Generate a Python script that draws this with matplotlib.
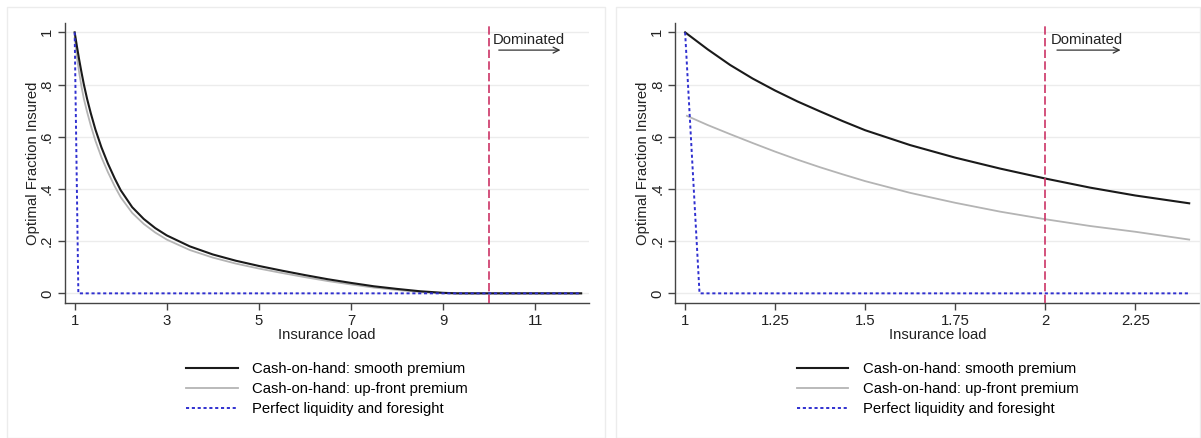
import matplotlib
matplotlib.use("Agg")
import matplotlib.pyplot as plt
from matplotlib.patches import Rectangle

plt.rcParams['font.family'] = ['Liberation Sans', 'DejaVu Sans']
plt.rcParams['font.size'] = 10.7

# left panel: insurance load 1..12
left_x = [1.0, 1.05, 1.1, 1.15, 1.2, 1.27, 1.35, 1.45, 1.58, 1.72, 1.87, 2.0, 2.25, 2.5, 2.75,
          3.0, 3.5, 4.0, 4.5, 5.0, 5.5, 6.0, 6.5, 7.0, 7.5, 8.0, 8.5, 9.0, 9.3, 12.0]
left_smooth_y = [1.0, 0.945, 0.893, 0.845, 0.8, 0.745, 0.69, 0.628, 0.56, 0.498, 0.44, 0.395, 0.33, 0.285, 0.25,
                 0.222, 0.18, 0.149, 0.125, 0.105, 0.087, 0.07, 0.054, 0.04, 0.027, 0.017, 0.008, 0.002, 0.0, 0.0]
left_upfront_y = [0.98, 0.905, 0.843, 0.79, 0.745, 0.695, 0.643, 0.585, 0.522, 0.465, 0.41, 0.368, 0.308, 0.266, 0.233,
                  0.206, 0.166, 0.137, 0.114, 0.095, 0.078, 0.062, 0.047, 0.034, 0.022, 0.013, 0.005, 0.0, 0.0, 0.0]
left_perfect_x = [1.0, 1.08, 12.0]
left_perfect_y = [1.0, 0.0, 0.0]

# right panel: insurance load 1..2.4
right_smooth_x = [1.0, 1.0625, 1.125, 1.1875, 1.25, 1.3125, 1.375, 1.4375, 1.5, 1.625, 1.75, 1.875,
                  2.0, 2.125, 2.25, 2.4]
right_smooth_y = [1.0, 0.935, 0.875, 0.823, 0.777, 0.735, 0.697, 0.66, 0.625, 0.568, 0.52, 0.478,
                  0.44, 0.405, 0.375, 0.345]
right_upfront_x = [1.005, 1.0625, 1.125, 1.1875, 1.25, 1.3125, 1.375, 1.4375, 1.5, 1.625, 1.75, 1.875,
                   2.0, 2.125, 2.25, 2.4]
right_upfront_y = [0.68, 0.645, 0.61, 0.576, 0.543, 0.512, 0.483, 0.456, 0.43, 0.385, 0.347, 0.313,
                   0.284, 0.258, 0.236, 0.206]
right_perfect_x = [1.0, 1.04, 2.4]
right_perfect_y = [1.0, 0.0, 0.0]

left_xticks = [1, 3, 5, 7, 9, 11]
left_xlabels = ['1', '3', '5', '7', '9', '11']
right_xticks = [1, 1.25, 1.5, 1.75, 2, 2.25]
right_xlabels = ['1', '1.25', '1.5', '1.75', '2', '2.25']
yticks = [0, 0.2, 0.4, 0.6, 0.8, 1]
ylabels = ['0', '.2', '.4', '.6', '.8', '1']

labels = ['Cash-on-hand: smooth premium',
          'Cash-on-hand: up-front premium',
          'Perfect liquidity and foresight']

W, H = 1201, 438
fig = plt.figure(figsize=(W / 100, H / 100), dpi=100)

# faint panel boxes like Stata graph regions
for x0, x1 in [(7, 605), (616, 1200)]:
    fig.patches.append(Rectangle((x0 / W, 0), (x1 - x0) / W, (H - 7) / H,
                                 transform=fig.transFigure, fill=False,
                                 edgecolor='#ececec', lw=1))


def panel(rect, sx, sy, ux, uy, px, py, xlim, xticks, xlabels, vline, dom_x, arrow_x):
    ax = fig.add_axes(rect)
    ax.set_xlim(xlim)
    ax.set_ylim(-0.037, 1.037)
    for y in yticks:
        ax.axhline(y, color='#ececec', lw=1, zorder=0)
    ax.plot(sx, sy, color='#1a1a1a', lw=1.5, label=labels[0], zorder=3)
    ax.plot(ux, uy, color='#b4b4b4', lw=1.3, label=labels[1], zorder=2)
    ax.plot(px, py, color='#3030d0', lw=1.4, linestyle=(0, (1.6, 1.4)), label=labels[2], zorder=4)
    ax.axvline(vline, color='#cc3366', lw=1.2, dashes=(5, 2), zorder=5)
    ax.text(dom_x, 0.97, 'Dominated', color='#222222', ha='left', va='center')
    ax.annotate('', xy=(arrow_x[1], 0.932), xytext=(arrow_x[0], 0.932),
                arrowprops=dict(arrowstyle='->', color='#333333', lw=0.9))
    ax.set_xticks(xticks)
    ax.set_xticklabels(xlabels)
    ax.set_yticks(yticks)
    ax.set_yticklabels(ylabels, rotation=90, va='center')
    for s in ['top', 'right']:
        ax.spines[s].set_visible(False)
    for s in ['left', 'bottom']:
        ax.spines[s].set_color('#444444')
        ax.spines[s].set_linewidth(1)
    ax.tick_params(colors='#444444', labelcolor='#222222', length=5, width=1)
    ax.tick_params(axis='x', pad=3)
    ax.tick_params(axis='y', pad=3)
    ax.set_xlabel('Insurance load', labelpad=0, color='#222222')
    ax.set_ylabel('Optimal Fraction Insured', labelpad=0, color='#222222')
    ax.legend(loc='center', bbox_to_anchor=(0.5, -0.307), frameon=False,
              handlelength=3.45, handletextpad=0.95, labelspacing=0.42)
    return ax


panel([65 / W, 1 - 303 / H, 524 / W, 280.3 / H],
      left_x, left_smooth_y, left_x, left_upfront_y,
      left_perfect_x, left_perfect_y, (0.79, 12.17),
      left_xticks, left_xlabels, 10, 10.07, (10.15, 11.61))

panel([675.4 / W, 1 - 303 / H, 524.6 / W, 280.3 / H],
      right_smooth_x, right_smooth_y, right_upfront_x, right_upfront_y,
      right_perfect_x, right_perfect_y, (0.973, 2.43),
      right_xticks, right_xlabels, 2, 2.016, (2.025, 2.217))

fig.savefig('out.png', dpi=100)
